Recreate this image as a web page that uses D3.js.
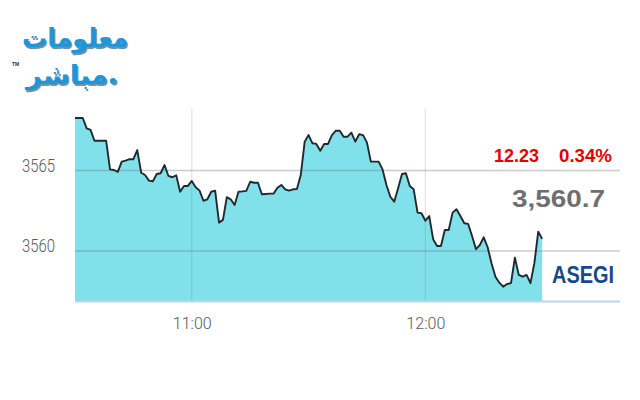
<!DOCTYPE html>
<html><head><meta charset="utf-8">
<script src="https://cdn.jsdelivr.net/npm/d3@7"></script>
<style>html,body{margin:0;padding:0;background:#fff;}svg{display:block;}</style>
</head><body>
<svg id="c" width="640" height="400"></svg>
<script>
const times = ["10:30","10:31","10:32","10:33","10:34","10:35","10:36","10:37","10:38","10:39",
"10:40","10:41","10:42","10:43","10:44","10:45","10:46","10:47","10:48","10:49",
"10:50","10:51","10:52","10:53","10:54","10:55","10:56","10:57","10:58","10:59",
"11:00","11:01","11:02","11:03","11:04","11:05","11:06","11:07","11:08","11:09",
"11:10","11:11","11:12","11:13","11:14","11:15","11:16","11:17","11:18","11:19",
"11:20","11:21","11:22","11:23","11:24","11:25","11:26","11:27","11:28","11:29",
"11:30","11:31","11:32","11:33","11:34","11:35","11:36","11:37","11:38","11:39",
"11:40","11:41","11:42","11:43","11:44","11:45","11:46","11:47","11:48","11:49",
"11:50","11:51","11:52","11:53","11:54","11:55","11:56","11:57","11:58","11:59",
"12:00","12:01","12:02","12:03","12:04","12:05","12:06","12:07","12:08","12:09",
"12:10","12:11","12:12","12:13","12:14","12:15","12:16","12:17","12:18","12:19",
"12:20","12:21","12:22","12:23","12:24","12:25","12:26","12:27","12:28","12:29","12:30"];
const values = [3568.26,3568.26,3568.26,3567.62,3567.52,3566.85,3566.85,3566.85,3566.85,3565.07,
3565.03,3564.91,3565.55,3565.61,3565.70,3565.70,3566.27,3564.86,3564.72,3564.37,
3564.33,3564.78,3564.83,3565.34,3564.66,3564.58,3564.70,3563.68,3564.04,3564.04,
3564.35,3563.96,3563.75,3563.12,3563.21,3563.68,3563.75,3561.76,3561.93,3563.34,
3563.21,3562.86,3563.68,3563.70,3563.73,3564.30,3564.24,3564.24,3563.52,3563.54,
3563.56,3563.56,3563.93,3564.10,3563.83,3563.75,3563.83,3563.85,3564.72,3566.79,
3567.20,3566.69,3566.65,3566.23,3566.65,3566.65,3567.20,3567.47,3567.47,3567.10,
3567.10,3567.35,3566.79,3567.25,3567.20,3566.73,3565.55,3565.55,3565.55,3565.07,
3564.10,3563.37,3563.06,3563.89,3564.78,3564.83,3564.04,3563.83,3562.38,3562.34,
3561.88,3562.17,3560.73,3560.31,3560.31,3561.30,3561.30,3562.38,3562.59,3562.17,
3561.72,3561.68,3560.93,3560.11,3560.37,3560.85,3560.23,3559.24,3558.40,3558.03,
3557.78,3557.95,3558.00,3559.58,3558.51,3558.40,3558.51,3558.00,3559.24,3561.20,3560.75];
const yTicks = [3560, 3565];
const xTicks = ["11:00", "12:00"];
const xDomain = ["10:30", "12:50"];
const yDomain = [3556.86, 3568.82];
const changeText = "12.23", pctText = "0.34%", lastText = "3,560.7", indexName = "ASEGI";
const logoTop = "معلومات", logoBottom = "مباشر";

const parse = d3.timeParse("%H:%M");
const data = times.map((t, i) => ({t: parse(t), v: values[i]}));
const svg = d3.select("#c");
const L = 75, R = 620, T = 109, B = 301.5;
const x = d3.scaleTime().domain(xDomain.map(parse)).range([L, R]);
const y = d3.scaleLinear().domain(yDomain).range([B, T]);

// area
svg.append("path").datum(data)
  .attr("d", d3.area().x(d => x(d.t)).y0(B).y1(d => y(d.v)))
  .attr("fill", "#80e1ea");

// grid
svg.append("g").selectAll("line").data(yTicks).join("line")
  .attr("x1", L).attr("x2", R).attr("y1", d => y(d)).attr("y2", d => y(d))
  .attr("stroke", "rgba(110,110,110,0.35)").attr("stroke-width", 1.5);
svg.append("g").selectAll("line").data(xTicks).join("line")
  .attr("x1", d => x(parse(d))).attr("x2", d => x(parse(d))).attr("y1", T).attr("y2", B)
  .attr("stroke", "rgba(110,110,110,0.2)").attr("stroke-width", 1.2);
svg.append("line").attr("x1", L).attr("x2", R).attr("y1", B).attr("y2", B)
  .attr("stroke", "#b9d5e8").attr("stroke-width", 2);

// line
svg.append("path").datum(data)
  .attr("d", d3.line().x(d => x(d.t)).y(d => y(d.v)))
  .attr("fill", "none").attr("stroke", "#20292e").attr("stroke-width", 1.9)
  .attr("stroke-linejoin", "round");

// axes
const ya = svg.append("g").attr("transform", `translate(${L},0)`)
  .call(d3.axisLeft(y).tickValues(yTicks).tickSize(0).tickPadding(20).tickFormat(d3.format("d")));
ya.select(".domain").remove();
ya.selectAll("text").attr("font-family", "Roboto").attr("font-weight", 300)
  .attr("font-size", 18).attr("fill", "#5a5a5a").attr("dy", "0.05em")
  .attr("textLength", 33).attr("lengthAdjust", "spacingAndGlyphs");

const xa = svg.append("g").attr("transform", `translate(0,${B})`)
  .call(d3.axisBottom(x).tickValues(xTicks.map(parse)).tickSize(0).tickPadding(27).tickFormat(d3.timeFormat("%H:%M")));
xa.select(".domain").remove();
xa.selectAll("text").attr("font-family", "Roboto").attr("font-weight", 300)
  .attr("font-size", 17).attr("fill", "#5a5a5a").attr("dy", "0.02em")
  .attr("textLength", 39).attr("lengthAdjust", "spacingAndGlyphs");

// right texts
const f = "Liberation Sans, Arial, sans-serif";
svg.append("text").attr("x", 494).attr("y", 162).text(changeText)
  .attr("font-family", f).attr("font-weight", "bold").attr("font-size", 18).attr("fill", "#e60000")
  .attr("textLength", 45).attr("lengthAdjust", "spacingAndGlyphs");
svg.append("text").attr("x", 559).attr("y", 162).text(pctText)
  .attr("font-family", f).attr("font-weight", "bold").attr("font-size", 18).attr("fill", "#e60000")
  .attr("textLength", 53).attr("lengthAdjust", "spacingAndGlyphs");
svg.append("text").attr("x", 512).attr("y", 207).text(lastText)
  .attr("font-family", f).attr("font-weight", "bold").attr("font-size", 23).attr("fill", "#6f6f6f")
  .attr("textLength", 93).attr("lengthAdjust", "spacingAndGlyphs");
svg.append("text").attr("x", 552).attr("y", 283).text(indexName)
  .attr("font-family", f).attr("font-weight", "bold").attr("font-size", 24).attr("fill", "#134b87")
  .attr("textLength", 62).attr("lengthAdjust", "spacingAndGlyphs");

// logo
const lg = svg.append("g");
[[1.5, "#0b4a75"], [0, "#1f95da"]].forEach(([o, c]) => {
  lg.append("text").attr("x", 22 + o).attr("y", 47 + o).text(logoTop)
    .attr("font-family", "DejaVu Sans").attr("font-weight", "bold").attr("font-size", 26).attr("fill", c)
    .attr("opacity", o ? 0.6 : 1)
    .attr("textLength", 106).attr("lengthAdjust", "spacingAndGlyphs");
  lg.append("text").attr("x", 26 + o).attr("y", 84 + o).text(logoBottom)
    .attr("font-family", "DejaVu Sans").attr("font-weight", "bold").attr("font-size", 26).attr("fill", c)
    .attr("opacity", o ? 0.6 : 1)
    .attr("textLength", 82).attr("lengthAdjust", "spacingAndGlyphs");
  lg.append("circle").attr("cx", 113 + o).attr("cy", 81 + o).attr("r", 3).attr("fill", c)
    .attr("opacity", o ? 0.6 : 1);
});
lg.append("text").attr("x", 12).attr("y", 66).text("TM").attr("font-family", f)
  .attr("font-size", 5).attr("font-weight", "bold").attr("fill", "#333");
</script>
</body></html>
